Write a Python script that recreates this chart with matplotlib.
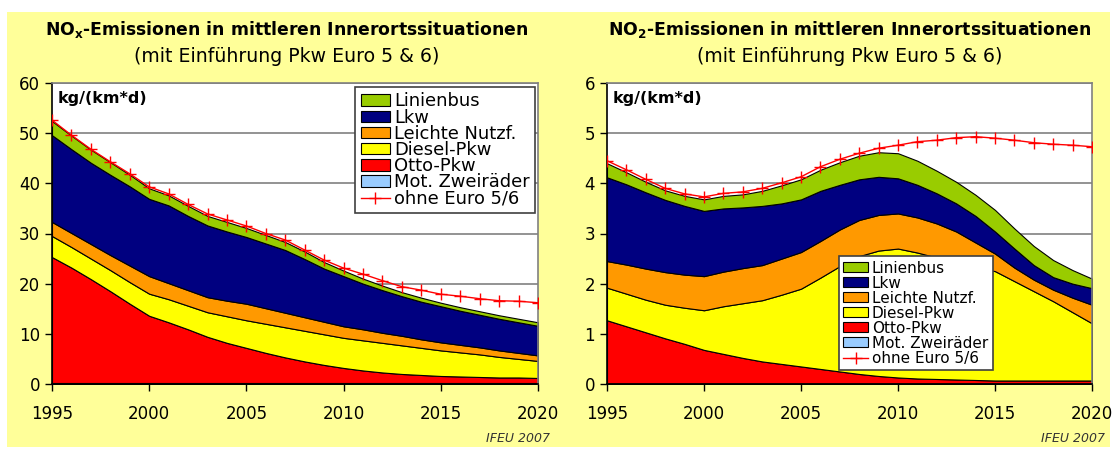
import numpy as np
import matplotlib.pyplot as plt
from matplotlib.patches import Patch, Rectangle
from matplotlib.lines import Line2D

years = np.arange(1995, 2021)

# NOx, kg/(km*d), stacked from bottom to top
nox_mot = [0.2, 0.2, 0.2, 0.2, 0.2, 0.2, 0.2, 0.2, 0.2, 0.2, 0.2, 0.2, 0.2,
           0.2, 0.2, 0.2, 0.2, 0.2, 0.2, 0.2, 0.2, 0.2, 0.2, 0.2, 0.2, 0.2]
nox_otto = [25.1, 23.0, 20.7, 18.3, 15.8, 13.4, 12.1, 10.7, 9.2, 8.0, 7.0, 6.0, 5.1,
            4.3, 3.6, 3.0, 2.5, 2.1, 1.8, 1.6, 1.4, 1.3, 1.2, 1.1, 1.1, 1.0]
nox_diesel = [4.2, 4.1, 4.1, 4.2, 4.3, 4.4, 4.6, 4.7, 4.9, 5.3, 5.5, 5.8, 6.0,
              6.1, 6.1, 6.0, 6.0, 5.9, 5.7, 5.4, 5.1, 4.8, 4.5, 4.1, 3.7, 3.4]
nox_lnf = [2.8, 2.8, 2.9, 3.0, 3.3, 3.5, 3.2, 3.1, 3.0, 3.1, 3.3, 3.1, 2.9,
           2.7, 2.5, 2.3, 2.2, 2.0, 1.9, 1.7, 1.6, 1.5, 1.4, 1.3, 1.2, 1.1]
nox_lkw = [17.3, 16.7, 16.2, 16.0, 15.8, 15.4, 15.5, 14.8, 14.3, 13.8, 13.3, 12.9, 12.5,
           11.6, 10.6, 10.0, 9.1, 8.5, 7.9, 7.5, 7.2, 6.8, 6.5, 6.3, 6.1, 5.9]
nox_bus = [2.8, 2.7, 2.6, 2.5, 2.3, 2.1, 2.0, 2.0, 1.9, 1.9, 1.8, 1.7, 1.6,
           1.5, 1.3, 1.1, 1.0, 0.9, 0.8, 0.8, 0.7, 0.7, 0.7, 0.7, 0.7, 0.7]
nox_ohne = [52.6, 49.6, 46.8, 44.3, 41.9, 39.3, 37.9, 35.8, 33.9, 32.7, 31.5, 30.0, 28.7,
            26.7, 24.7, 23.1, 21.9, 20.6, 19.4, 18.7, 17.9, 17.5, 17.0, 16.6, 16.5, 16.2]

# NO2, kg/(km*d)
no2_mot = [0.01, 0.01, 0.01, 0.01, 0.01, 0.01, 0.01, 0.01, 0.01, 0.01, 0.01, 0.01, 0.01,
           0.01, 0.01, 0.01, 0.01, 0.01, 0.01, 0.01, 0.01, 0.01, 0.01, 0.01, 0.01, 0.01]
no2_otto = [1.26, 1.14, 1.02, 0.90, 0.79, 0.67, 0.59, 0.51, 0.44, 0.39, 0.34, 0.29, 0.24,
            0.19, 0.15, 0.12, 0.10, 0.09, 0.08, 0.07, 0.06, 0.06, 0.06, 0.06, 0.06, 0.06]
no2_diesel = [0.65, 0.65, 0.65, 0.67, 0.72, 0.79, 0.95, 1.09, 1.22, 1.38, 1.55, 1.82, 2.10,
              2.35, 2.50, 2.57, 2.51, 2.42, 2.33, 2.25, 2.18, 1.98, 1.78, 1.58, 1.36, 1.14]
no2_lnf = [0.53, 0.58, 0.62, 0.65, 0.66, 0.68, 0.69, 0.70, 0.70, 0.72, 0.73, 0.73, 0.73,
           0.72, 0.71, 0.70, 0.70, 0.68, 0.62, 0.49, 0.35, 0.27, 0.23, 0.23, 0.29, 0.37]
no2_lkw = [1.67, 1.60, 1.52, 1.44, 1.37, 1.30, 1.26, 1.21, 1.18, 1.10, 1.05, 1.00, 0.89,
           0.81, 0.76, 0.70, 0.65, 0.60, 0.56, 0.53, 0.44, 0.38, 0.29, 0.25, 0.28, 0.33]
no2_bus = [0.28, 0.24, 0.21, 0.19, 0.20, 0.23, 0.25, 0.26, 0.30, 0.36, 0.40, 0.42, 0.45,
           0.47, 0.49, 0.50, 0.48, 0.45, 0.43, 0.42, 0.43, 0.40, 0.38, 0.34, 0.27, 0.19]
no2_ohne = [4.45, 4.27, 4.08, 3.90, 3.79, 3.73, 3.80, 3.83, 3.90, 4.01, 4.13, 4.33, 4.48,
            4.60, 4.70, 4.76, 4.83, 4.86, 4.91, 4.93, 4.90, 4.86, 4.81, 4.78, 4.76, 4.73]

labels = ['Mot. Zweiräder', 'Otto-Pkw', 'Diesel-Pkw', 'Leichte Nutzf.', 'Lkw', 'Linienbus']
colors = ['#99CCFF', '#FF0000', '#FFFF00', '#FF9900', '#000080', '#99CC00']
ohne_label = 'ohne Euro 5/6'

W, H = 1113, 449


def draw_panel(ax, layers, ohne, ymax, ystep, leg_size, leg_space, leg_kw):
    ax.set_facecolor('white')
    ax.set_axisbelow(True)
    ax.yaxis.grid(True, color='#808080', linewidth=1.2)
    ax.stackplot(years, *layers, colors=colors, edgecolor='black',
                 linewidth=0.8, zorder=2)
    ax.plot(years, ohne, color='#FF0000', marker='+', markersize=9,
            markeredgewidth=1.0, linewidth=1.0, zorder=3)
    ax.set_xlim(1995, 2020)
    ax.set_ylim(0, ymax)
    ax.set_xticks(range(1995, 2021, 5))
    ax.set_yticks(np.arange(0, ymax + ystep / 2, ystep))
    ax.tick_params(axis='both', direction='out', length=5, width=1,
                   labelsize=12, colors='black')
    ax.tick_params(axis='x', pad=10)
    for side in ['top', 'right']:
        ax.spines[side].set_color('#808080')
        ax.spines[side].set_linewidth(1.2)
    for side in ['left', 'bottom']:
        ax.spines[side].set_color('black')
        ax.spines[side].set_linewidth(1.2)
    ax.text(0.012, 0.95, 'kg/(km*d)', transform=ax.transAxes, fontsize=11.5,
            fontweight='bold', va='center', ha='left', zorder=5)

    handles = [Patch(facecolor=c, edgecolor='black', linewidth=0.8)
               for c in colors[::-1]]
    handles.append(Line2D([], [], color='#FF0000', marker='+', markersize=9,
                          linewidth=1.0))
    leg = ax.legend(handles, labels[::-1] + [ohne_label], fontsize=leg_size,
                    frameon=True, fancybox=False, framealpha=1,
                    edgecolor='#404040', handlelength=1.6, handleheight=0.6,
                    handletextpad=0.25, labelspacing=leg_space, borderpad=0.3,
                    borderaxespad=0, **leg_kw)
    leg.get_frame().set_linewidth(1.2)
    leg.set_zorder(6)


fig = plt.figure(figsize=(W / 100, H / 100), dpi=100)
fig.patch.set_facecolor('white')
fig.patches.append(Rectangle((7 / W, 2 / H), (1110 - 7) / W, (447 - 12) / H,
                             transform=fig.transFigure, facecolor='#FFFF99',
                             edgecolor='none', zorder=-5))

ax1 = fig.add_axes([52 / W, 1 - 384 / H, 486 / W, 301 / H])
ax2 = fig.add_axes([607 / W, 1 - 384 / H, 485 / W, 301 / H])

draw_panel(ax1, [nox_mot, nox_otto, nox_diesel, nox_lnf, nox_lkw, nox_bus],
           nox_ohne, 60, 10, 12.9, -0.1,
           dict(loc='upper right', bbox_to_anchor=(1 - 3 / 486, 1 - 4 / 301)))
draw_panel(ax2, [no2_mot, no2_otto, no2_diesel, no2_lnf, no2_lkw, no2_bus],
           no2_ohne, 6, 1, 11.0, 0.0,
           dict(loc='upper left', bbox_to_anchor=(0.478, 0.425)))

for cx, head in [(287, r'NO$\mathbf{_x}$-Emissionen in mittleren Innerortssituationen'),
                 (849.5, r'NO$\mathbf{_2}$-Emissionen in mittleren Innerortssituationen')]:
    fig.text(cx / W, 1 - 29 / H, head, ha='center', va='center',
             fontsize=12.4, fontweight='bold')
    fig.text(cx / W, 1 - 57 / H, '(mit Einführung Pkw Euro 5 & 6)',
             ha='center', va='center', fontsize=13.6)

for rx in [550, 1105]:
    fig.text(rx / W, 1 - 438 / H, 'IFEU 2007', ha='right', va='center',
             fontsize=9, style='italic', color='#333333')

fig.savefig('out.png', dpi=100)
